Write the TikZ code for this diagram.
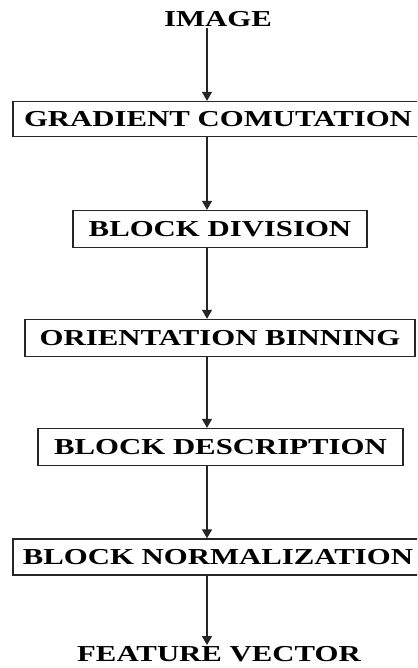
\documentclass[tikz,border=0pt]{standalone}
\usepackage{fontspec}
\setmainfont{Liberation Serif}
\newfontfamily\widebold[FakeStretch=1.35]{Liberation Serif Bold}
\usetikzlibrary{arrows.meta}
\begin{document}
\begin{tikzpicture}[x=1pt,y=-1pt,
  stagebox/.style={draw=black!85,line width=1.3pt,fill=white,inner sep=0pt,
    minimum height=37pt,font=\fontsize{22.8}{24}\widebold},
  endlabel/.style={inner sep=0pt,font=\fontsize{22.8}{24}\widebold},
  flow/.style={draw=black!85,line width=1.2pt,-{Triangle[length=9pt,width=10pt]}}]
\useasboundingbox (0,0) rectangle (417,668);
\clip (0,0) rectangle (417,668);
\coordinate (ax) at (207,0);
\node[endlabel] (img) at (218,19.5) {IMAGE};
\node[stagebox,minimum width=410pt,minimum height=35pt] (grad) at (218,119) {GRADIENT COMUTATION};
\node[stagebox,minimum width=294pt] (div) at (220,229) {BLOCK DIVISION};
\node[stagebox,minimum width=390pt] (ori) at (220,338) {ORIENTATION BINNING};
\node[stagebox,minimum width=365pt] (desc) at (220.5,447) {BLOCK DESCRIPTION};
\node[stagebox,minimum width=410pt,minimum height=36pt] (norm) at (218,557) {BLOCK NORMALIZATION};
\node[endlabel] (feat) at (219,654) {FEATURE VECTOR};
\draw[flow] (img.south -| ax) ++(0,1) -- (grad.north -| ax);
\draw[flow] (grad.south -| ax) -- (div.north -| ax);
\draw[flow] (div.south -| ax) -- (ori.north -| ax);
\draw[flow] (ori.south -| ax) -- (desc.north -| ax);
\draw[flow] (desc.south -| ax) -- (norm.north -| ax);
\draw[flow] (norm.south -| ax) -- ([yshift=1pt]feat.north -| ax);
\end{tikzpicture}
\end{document}
